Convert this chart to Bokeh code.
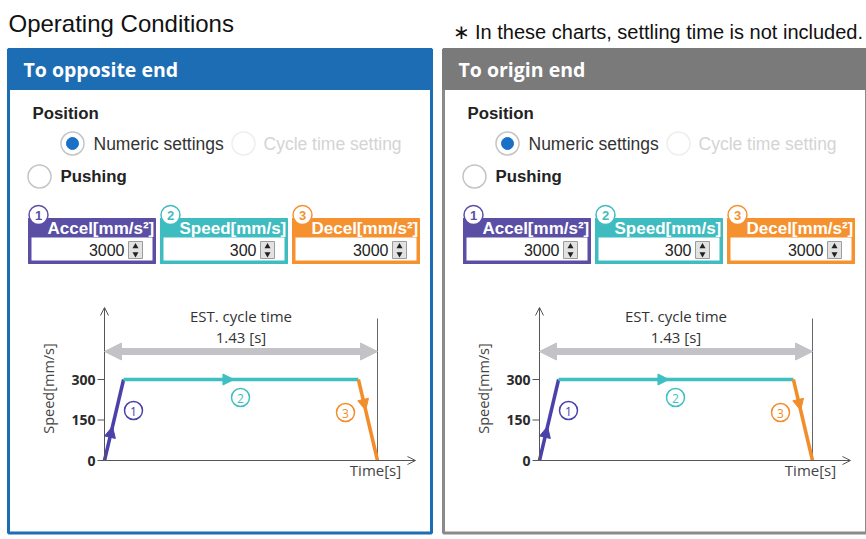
import math
from bokeh.plotting import figure
from bokeh.models import Range1d, Arrow, NormalHead, OpenHead
from bokeh.core.properties import value
from bokeh.embed import file_html
from bokeh.resources import INLINE

# ---------------- data ----------------
page_title = "Operating Conditions"
note_text = "\u2217 In these charts, settling time is not included."
panel_titles = ["To opposite end", "To origin end"]
position_label = "Position"
radio_labels = ["Numeric settings", "Cycle time setting", "Pushing"]
param_numbers = ["1", "2", "3"]
param_labels = ["Accel[mm/s\u00b2]", "Speed[mm/s]", "Decel[mm/s\u00b2]"]
param_values = [3000, 300, 3000]
profile_time = [0.0, 0.1, 1.33, 1.43]      # s
profile_speed = [0, 300, 300, 0]           # mm/s
cycle_time = 1.43                          # s
speed_ticks = [0, 150, 300]
speed_tick_labels = ["0", "150", "300"]
axis_labels = ["Speed[mm/s]", "Time[s]"]
cycle_label = "EST. cycle time"

# ---------------- styles ----------------
UI_FONT = value("Liberation Sans")
CH_FONT = value("Open Sans")
HEAD_FONT = value("Open Sans")
panel_colors = ["#1d6db4", "#7a7a7a"]
panel_border = ["#1d6db4", "#8a8a8a"]
box_colors = ["#5a4fa5", "#3fbcc0", "#f5922f"]
line_colors = ["#4a42aa", "#3ec0c3", "#f28d2a"]
GRAY_ARROW = "#c3c3c7"
AXIS_COL = "#555555"

W, H = 866, 539
p = figure(width=W, height=H, x_range=Range1d(0, W), y_range=Range1d(H, 0),
           output_backend="svg", toolbar_location=None, min_border=0,
           x_axis_location=None, y_axis_location=None)
p.grid.visible = False
p.outline_line_color = None
p.background_fill_color = "white"
p.border_fill_color = "white"

# page texts
p.text(x=[8], y=[23], text=[page_title], text_font=UI_FONT, text_font_size="24px",
       text_color="#111111", text_baseline="middle")
p.text(x=[452], y=[31], text=[note_text], text_font=UI_FONT, text_font_size="20px",
       text_color="#111111", text_baseline="middle")

PANEL_DX = 435
PX_PER_S = 273 / cycle_time
PX_PER_V = 81 / 300
OY = 460

for i, title in enumerate(panel_titles):
    dx = i * PANEL_DX
    L, R = 8 + dx, 431 + dx
    col = panel_colors[i]
    # panel body + header
    p.quad(left=[L], right=[R], top=[49], bottom=[532.5], fill_color="white",
           line_color=panel_border[i], line_width=3)
    p.quad(left=[L], right=[R], top=[49], bottom=[88], fill_color=col,
           line_color=col, line_width=3)
    p.text(x=[L + 15], y=[69], text=[title], text_font=HEAD_FONT, text_font_size="19.5px",
           text_font_style="bold", text_color="white", text_baseline="middle")

    # Position / radios
    p.text(x=[32 + dx], y=[113], text=[position_label], text_font=UI_FONT,
           text_font_size="16.8px", text_font_style="bold", text_color="#222222",
           text_baseline="middle")
    p.scatter(x=[72 + dx], y=[143], size=23, marker="circle", fill_color="white",
              line_color="#c4c4c4", line_width=1.5)
    p.scatter(x=[72 + dx], y=[143], size=12, marker="circle", fill_color="#1a6fc6",
              line_color="#1a6fc6")
    p.text(x=[93 + dx], y=[143], text=[radio_labels[0]], text_font=UI_FONT,
           text_font_size="17.5px", text_color="#333333", text_baseline="middle")
    p.scatter(x=[243 + dx], y=[143], size=23, marker="circle", fill_color="white",
              line_color="#eeeeee", line_width=1.5)
    p.text(x=[263 + dx], y=[143], text=[radio_labels[1]], text_font=UI_FONT,
           text_font_size="17.5px", text_color="#d4d4d4", text_baseline="middle")
    p.scatter(x=[39 + dx], y=[176], size=23, marker="circle", fill_color="white",
              line_color="#c4c4c4", line_width=1.5)
    p.text(x=[60 + dx], y=[176], text=[radio_labels[2]], text_font=UI_FONT,
           text_font_size="16.8px", text_font_style="bold", text_color="#222222",
           text_baseline="middle")

    # parameter boxes
    for j in range(3):
        bx = 28 + j * 132 + dx
        bc = box_colors[j]
        p.quad(left=[bx], right=[bx + 127], top=[218], bottom=[263], fill_color=bc,
               line_color=bc, line_width=1)
        p.text(x=[bx + 19], y=[228], text=[param_labels[j]], text_font=UI_FONT,
               text_font_size="17px", text_font_style="bold", text_color="white",
               text_baseline="middle")
        # cover the overflow to the right of the box (label is clipped in the UI)
        p.quad(left=[bx + 127], right=[bx + 132], top=[216], bottom=[240],
               fill_color="white", line_color=None)
        p.quad(left=[bx], right=[bx + 127], top=[218], bottom=[263], fill_color=None,
               line_color=bc, line_width=1)
        p.quad(left=[bx + 3], right=[bx + 124], top=[237], bottom=[260],
               fill_color="white", line_color=None)
        p.scatter(x=[bx + 10], y=[214.5], size=19, marker="circle", fill_color="white",
                  line_color=bc, line_width=1.5)
        p.text(x=[bx + 10], y=[215], text=[param_numbers[j]], text_font=UI_FONT,
               text_font_size="13px", text_font_style="bold", text_color=bc,
               text_align="center", text_baseline="middle")
        p.text(x=[bx + 96], y=[249], text=[str(param_values[j])], text_font=UI_FONT,
               text_font_size="16px", text_color="#222222", text_align="right",
               text_baseline="middle")
        p.quad(left=[bx + 100], right=[bx + 114], top=[241], bottom=[258],
               fill_color="#e2e2e2", line_color="#9c9c9c", line_width=1)
        p.scatter(x=[bx + 107], y=[246], size=6, marker="triangle", fill_color="#222222",
                  line_color=None)
        p.scatter(x=[bx + 107], y=[253.5], size=6, marker="inverted_triangle",
                  fill_color="#222222", line_color=None)

    # ---------- speed profile chart ----------
    OX = 104 + dx
    tname, vname = f"t{i}", f"v{i}"
    p.extra_x_ranges[tname] = Range1d((0 - OX) / PX_PER_S, (W - OX) / PX_PER_S)
    p.extra_y_ranges[vname] = Range1d((OY - H) / PX_PER_V, (OY - 0) / PX_PER_V)
    kw = dict(x_range_name=tname, y_range_name=vname)

    # axes (open arrows)
    p.add_layout(Arrow(end=OpenHead(size=8, line_color=AXIS_COL, line_width=1),
                       x_start=0, y_start=0, x_end=0, y_end=153 / PX_PER_V,
                       line_color=AXIS_COL, line_width=1, **kw))
    p.add_layout(Arrow(end=OpenHead(size=8, line_color=AXIS_COL, line_width=1),
                       x_start=0, y_start=0, x_end=311 / PX_PER_S, y_end=0,
                       line_color=AXIS_COL, line_width=1, **kw))
    # cycle end vertical line
    p.segment(x0=[cycle_time], y0=[0], x1=[cycle_time], y1=[142 / PX_PER_V],
              line_color="#666666", line_width=1, **kw)
    # ticks
    p.segment(x0=[-7 / PX_PER_S] * 3, y0=speed_ticks, x1=[0] * 3, y1=speed_ticks,
              line_color=AXIS_COL, line_width=1, **kw)
    p.text(x=[0] * 3, y=speed_ticks, text=speed_tick_labels, x_offset=-9,
           text_font=CH_FONT, text_font_size="14px", text_font_style="bold",
           text_color="#2a2a2a", text_align="right", text_baseline="middle", **kw)
    # cycle time double arrow
    y_ct = 109 / PX_PER_V
    p.add_layout(Arrow(start=NormalHead(size=17, fill_color=GRAY_ARROW, line_color=GRAY_ARROW),
                       end=NormalHead(size=17, fill_color=GRAY_ARROW, line_color=GRAY_ARROW),
                       x_start=0, y_start=y_ct, x_end=cycle_time, y_end=y_ct,
                       line_color=GRAY_ARROW, line_width=7, **kw))
    p.text(x=[cycle_time / 2], y=[y_ct], y_offset=-36, text=[cycle_label],
           text_font=CH_FONT, text_font_size="15px", text_color="#333333",
           text_align="center", text_baseline="middle", **kw)
    p.text(x=[cycle_time / 2], y=[y_ct], y_offset=-15, text=[f"{cycle_time:.2f} [s]"],
           text_font=CH_FONT, text_font_size="15px", text_color="#333333",
           text_align="center", text_baseline="middle", **kw)

    # profile segments
    head_frac = [0.42, 0.47, 0.38]
    for k in range(3):
        c = line_colors[k]
        t0, t1 = profile_time[k], profile_time[k + 1]
        v0, v1 = profile_speed[k], profile_speed[k + 1]
        p.line(x=[t0, t1], y=[v0, v1], line_color=c, line_width=3.5, **kw)
        f = head_frac[k]
        p.add_layout(Arrow(end=NormalHead(size=11, fill_color=c, line_color=c),
                           x_start=t0, y_start=v0,
                           x_end=t0 + f * (t1 - t0), y_end=v0 + f * (v1 - v0),
                           line_alpha=0, **kw))

    # axis labels
    p.text(x=[48 + dx], y=[388], text=[axis_labels[0]], angle=math.pi / 2,
           text_font=CH_FONT, text_font_size="14.5px", text_color="#444444",
           text_align="center", text_baseline="middle")
    p.text(x=[375 + dx], y=[469], text=[axis_labels[1]], text_font=CH_FONT,
           text_font_size="15px", text_color="#444444", text_align="center",
           text_baseline="middle")

    # circled numbers in chart
    circ_pos = [(133, 410), (240, 397), (345, 412)]
    for k, (cx, cy) in enumerate(circ_pos):
        c = line_colors[k]
        p.scatter(x=[cx + dx], y=[cy], size=18, marker="circle", fill_color="white",
                  line_color=c, line_width=1.5)
        p.text(x=[cx + dx], y=[cy + 0.5], text=[param_numbers[k]], text_font=CH_FONT,
               text_font_size="12px", text_color=c, text_align="center",
               text_baseline="middle")

open("out.html", "w").write(file_html(p, INLINE))
